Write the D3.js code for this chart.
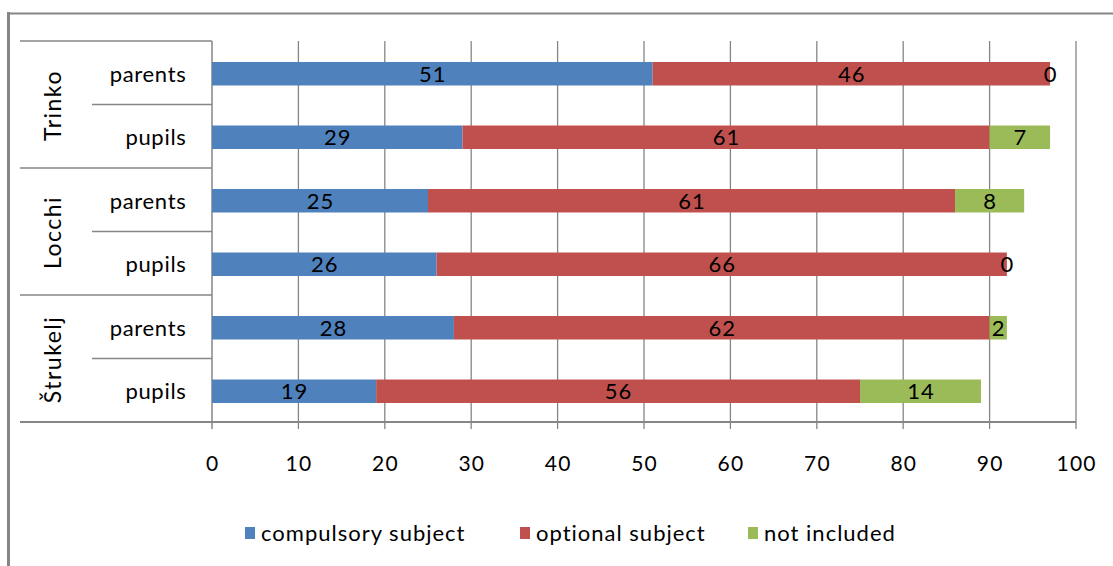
<!DOCTYPE html>
<html>
<head>
<meta charset="utf-8">
<script src="https://cdn.jsdelivr.net/npm/d3@7"></script>
<style>
  body { margin: 0; background: #fff; }
  svg { display: block; font-family: Lato, "DejaVu Sans", sans-serif; }
</style>
</head>
<body>
<svg id="chart" width="1113" height="566"></svg>
<script>
// ---- data ----
const groups = ["Trinko", "Locchi", "Štrukelj"];
const subgroups = ["parents", "pupils"];
const seriesNames = ["compulsory subject", "optional subject", "not included"];
const compulsory = [51, 29, 25, 26, 28, 19];
const optional   = [46, 61, 61, 66, 62, 56];
const notIncluded = [0, 7, 8, 0, 2, 14];
const xTicks = [0, 10, 20, 30, 40, 50, 60, 70, 80, 90, 100];
const colors = ["#4F81BD", "#C0504D", "#9BBB59"];

// ---- build rows ----
const rows = [];
groups.forEach((g, gi) => subgroups.forEach((s, si) => {
  const i = gi * subgroups.length + si;
  rows.push({ key: g + "|" + s, group: g, sub: s, values: [compulsory[i], optional[i], notIncluded[i]] });
}));

const svg = d3.select("#chart");
const gridColor = "#868686";

const plot = { left: 212, right: 1076, top: 41, bottom: 422 };
const x = d3.scaleLinear().domain([0, 100]).range([plot.left, plot.right]);
const y = d3.scaleBand().domain(rows.map(r => r.key)).range([plot.top, plot.bottom])
  .paddingInner(0.63).paddingOuter(0.315);
const step = y.step();

// outer border (left + top visible)
svg.append("line").attr("x1", 8.5).attr("x2", 8.5).attr("y1", 12).attr("y2", 566)
  .attr("stroke", "#868686").attr("stroke-width", 3);
svg.append("line").attr("x1", 7).attr("x2", 1113).attr("y1", 13.5).attr("y2", 13.5)
  .attr("stroke", "#868686").attr("stroke-width", 2);

// vertical gridlines + tick marks
svg.append("g").selectAll("line").data(xTicks).join("line")
  .attr("x1", d => x(d)).attr("x2", d => x(d))
  .attr("y1", plot.top).attr("y2", plot.bottom + 7)
  .attr("stroke", gridColor).attr("stroke-width", d => d === 0 ? 1.5 : 1.3);

// category separator lines
const groupTop = gi => plot.top + gi * subgroups.length * step;
groups.forEach((g, gi) => {
  svg.append("line").attr("x1", 20).attr("x2", plot.left)
    .attr("y1", groupTop(gi)).attr("y2", groupTop(gi))
    .attr("stroke", gridColor).attr("stroke-width", 1.3);
  for (let si = 1; si < subgroups.length; si++) {
    const yy = groupTop(gi) + si * step;
    svg.append("line").attr("x1", 92).attr("x2", plot.left)
      .attr("y1", yy).attr("y2", yy)
      .attr("stroke", gridColor).attr("stroke-width", 1.3);
  }
});
// bottom axis line
svg.append("line").attr("x1", 20).attr("x2", plot.right)
  .attr("y1", plot.bottom).attr("y2", plot.bottom)
  .attr("stroke", gridColor).attr("stroke-width", 2);

// bars
const barG = svg.append("g");
rows.forEach(r => {
  let acc = 0;
  r.values.forEach((v, k) => {
    const x0 = acc, x1 = acc + v;
    acc = x1;
    barG.append("rect")
      .attr("x", x(x0)).attr("y", y(r.key) + 1)
      .attr("width", x(x1) - x(x0)).attr("height", y.bandwidth())
      .attr("fill", colors[k]);
  });
  acc = 0;
  r.values.forEach((v, k) => {
    const x0 = acc, x1 = acc + v;
    acc = x1;
    barG.append("text")
      .attr("x", (x(x0) + x(x1)) / 2 + 0.5).attr("y", y(r.key) + 1 + y.bandwidth() / 2)
      .attr("dy", "0.36em").attr("text-anchor", "middle")
      .attr("font-size", 22).attr("letter-spacing", 1).attr("fill", "#000").text(v);
  });
});

// subgroup labels
svg.append("g").selectAll("text").data(rows).join("text")
  .attr("x", 186.5).attr("y", d => y(d.key) + 1 + y.bandwidth() / 2)
  .attr("dy", "0.36em").attr("text-anchor", "end")
  .attr("font-size", 22).attr("letter-spacing", 0.7).attr("fill", "#000").text(d => d.sub);

// group labels (rotated)
groups.forEach((g, gi) => {
  const cy = groupTop(gi) + subgroups.length * step / 2;
  svg.append("text")
    .attr("transform", `translate(53,${cy + 1}) rotate(-90)`)
    .attr("dy", "0.36em").attr("text-anchor", "middle")
    .attr("font-size", 23).attr("letter-spacing", 1.5).attr("fill", "#000").text(g);
});

// x tick labels
svg.append("g").selectAll("text").data(xTicks).join("text")
  .attr("x", d => x(d) + 0.6).attr("y", 463).attr("dy", "0.36em")
  .attr("text-anchor", "middle").attr("font-size", 21).attr("letter-spacing", 1.2).attr("fill", "#000")
  .text(d => d);

// legend
const legendX = [245, 520, 748];
const lg = svg.append("g");
seriesNames.forEach((n, k) => {
  lg.append("rect").attr("x", legendX[k]).attr("y", 527).attr("width", 10).attr("height", 12)
    .attr("fill", colors[k]);
  lg.append("text").attr("x", legendX[k] + 16).attr("y", 533.5).attr("dy", "0.36em")
    .attr("font-size", 22).attr("letter-spacing", 1).attr("fill", "#000").text(n);
});
</script>
</body>
</html>
